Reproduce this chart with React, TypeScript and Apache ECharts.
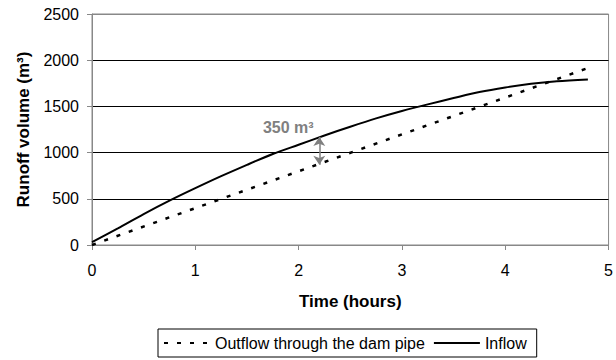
import React, { useEffect, useRef } from "react";
import * as echarts from "echarts";

const FONT = "'Liberation Sans', Arial, sans-serif";

const inflowTimes = [0, 0.25, 0.5, 0.75, 1, 1.25, 1.5, 1.75, 2, 2.25, 2.5, 2.75, 3, 3.25, 3.5, 3.75, 4, 4.25, 4.5, 4.8];
const inflowValues = [30, 180, 335, 480, 615, 745, 868, 985, 1085, 1185, 1280, 1370, 1450, 1522, 1590, 1655, 1705, 1745, 1772, 1792];

const outflowTimes = [0, 4.8];
const outflowValues = [0, 1915];

const xTicks = [0, 1, 2, 3, 4, 5];
const yTicks = [0, 500, 1000, 1500, 2000, 2500];

const arrowTime = 2.2;
const arrowTop = 1168;
const arrowBottom = 868;
const annotationText = "350 m³";
const annotationAt = [1.9, 1276];

export default function App() {
  const ref = useRef<HTMLDivElement>(null);
  useEffect(() => {
    if (!ref.current) return;
    const chart = echarts.init(ref.current, null, { renderer: "svg" });
    chart.setOption({
      animation: false,
      backgroundColor: "#ffffff",
      textStyle: { fontFamily: FONT },
      grid: {
        left: 92,
        right: 5,
        top: 14,
        bottom: 115,
        show: true,
        borderColor: "#888888",
        borderWidth: 1,
        backgroundColor: "transparent",
      },
      legend: {
        left: 158,
        top: 329,
        padding: [6, 10, 6, 5],
        itemGap: 8,
        itemWidth: 46,
        itemHeight: 10,
        borderColor: "#000",
        borderWidth: 1,
        borderRadius: 0,
        itemStyle: { opacity: 0 },
        textStyle: { fontSize: 16, color: "#000", fontFamily: FONT },
        data: ["Outflow through the dam pipe", "Inflow"],
      },
      xAxis: {
        type: "value",
        min: xTicks[0],
        max: xTicks[xTicks.length - 1],
        interval: 1,
        name: "Time (hours)",
        nameLocation: "middle",
        nameGap: 48,
        nameTextStyle: { fontSize: 17, fontWeight: "bold", color: "#000", fontFamily: FONT },
        axisLine: { show: true, lineStyle: { color: "#888888", width: 1 } },
        axisTick: { show: true, length: 5, lineStyle: { color: "#888888" } },
        axisLabel: { fontSize: 16, color: "#000", margin: 17, fontFamily: FONT, formatter: (v: number) => String(v) },
        splitLine: { show: false },
      },
      yAxis: {
        type: "value",
        min: yTicks[0],
        max: yTicks[yTicks.length - 1],
        interval: 500,
        name: "Runoff volume (m³)",
        nameLocation: "middle",
        nameGap: 60,
        nameTextStyle: { fontSize: 17, fontWeight: "bold", color: "#000", fontFamily: FONT },
        axisLine: { show: true, lineStyle: { color: "#888888", width: 1 } },
        axisTick: { show: true, length: 5, lineStyle: { color: "#888888" } },
        axisLabel: { fontSize: 16, color: "#000", margin: 13, fontFamily: FONT, formatter: (v: number) => String(v) },
        splitLine: {
          show: true,
          lineStyle: { color: ["#888888", "#000", "#000", "#000", "#000", "#888888"], width: 1 },
        },
      },
      series: [
        {
          name: "Outflow through the dam pipe",
          type: "line",
          symbol: "none",
          data: outflowTimes.map((t, i) => [t, outflowValues[i]]),
          lineStyle: { color: "#000", width: 2.5, type: [4, 9] },
          itemStyle: { color: "#000" },
          z: 2,
        },
        {
          name: "Inflow",
          type: "line",
          symbol: "none",
          smooth: 0.3,
          data: inflowTimes.map((t, i) => [t, inflowValues[i]]),
          lineStyle: { color: "#000", width: 2 },
          itemStyle: { color: "#000" },
          z: 3,
          markLine: {
            silent: true,
            symbol: ["arrow", "arrow"],
            symbolSize: [9, 9],
            lineStyle: { color: "#808080", width: 1.5, type: "solid" },
            label: { show: false },
            data: [[{ coord: [arrowTime, arrowTop] }, { coord: [arrowTime, arrowBottom] }]],
          },
          markPoint: {
            silent: true,
            symbol: "circle",
            symbolSize: 0,
            label: {
              show: true,
              position: "inside",
              formatter: annotationText,
              color: "#808080",
              fontWeight: "bold",
              fontSize: 16,
              fontFamily: FONT,
            },
            data: [{ coord: annotationAt }],
          },
        },
      ],
    });
    return () => chart.dispose();
  }, []);
  return (
    <div
      ref={ref}
      style={{ position: "fixed", left: 0, top: 0, width: 616, height: 360, background: "#fff" }}
    />
  );
}
